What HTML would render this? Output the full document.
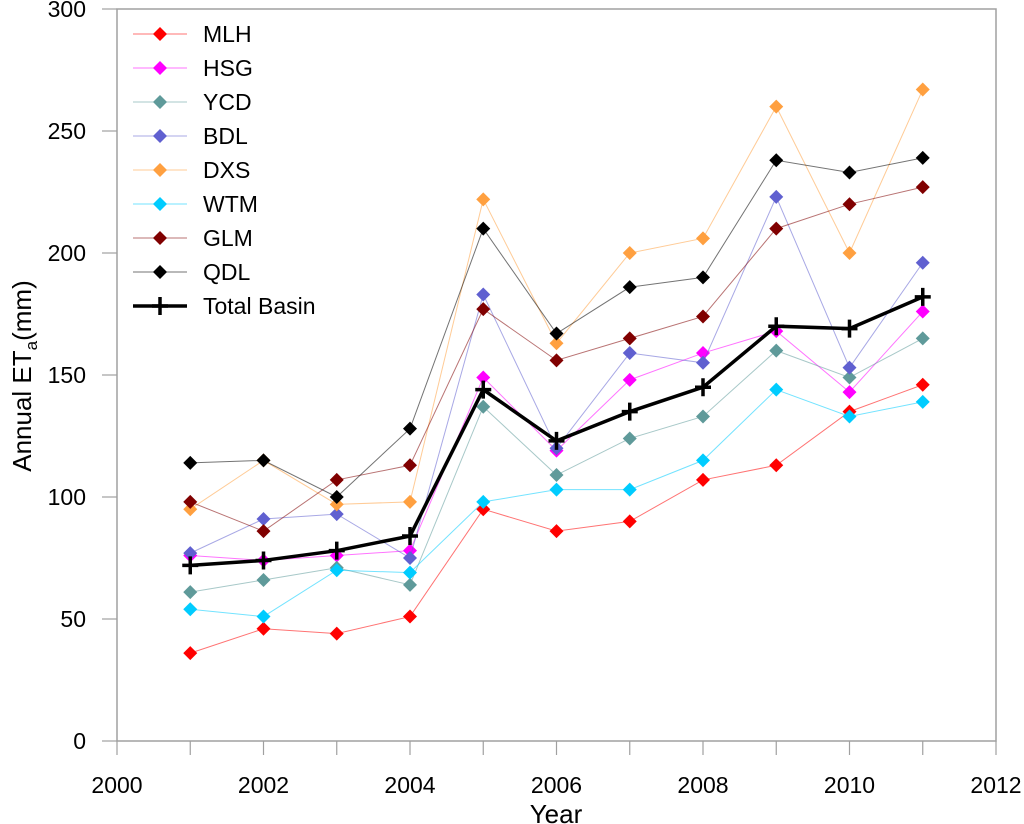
<!DOCTYPE html>
<html><head><meta charset="utf-8">
<style>
body{margin:0;background:#fff;}
svg{display:block;font-family:"Liberation Sans",Arial,sans-serif;}
</style></head><body>
<svg id="chart" width="1024" height="824" xmlns="http://www.w3.org/2000/svg"></svg>
<script>
const years=[2001,2002,2003,2004,2005,2006,2007,2008,2009,2010,2011];
const seriesNames=["MLH","HSG","YCD","BDL","DXS","WTM","GLM","QDL"];
const seriesColors=["#ff0000","#ff00ff","#5f9a9a","#6060d0","#ffa040","#00ccff","#800000","#000000"];
const mlh=[36,46,44,51,95,86,90,107,113,135,146];
const hsg=[76,74,76,78,149,119,148,159,168,143,176];
const ycd=[61,66,71,64,137,109,124,133,160,149,165];
const bdl=[77,91,93,75,183,120,159,155,223,153,196];
const dxs=[95,115,97,98,222,163,200,206,260,200,267];
const wtm=[54,51,70,69,98,103,103,115,144,133,139];
const glm=[98,86,107,113,177,156,165,174,210,220,227];
const qdl=[114,115,100,128,210,167,186,190,238,233,239];
const total=[72,74,78,84,144,123,135,145,170,169,182];
const xTicks=[2000,2002,2004,2006,2008,2010,2012];
const xMinor=[2001,2003,2005,2007,2009,2011];
const yTicks=[0,50,100,150,200,250,300];
const allSeries=[mlh,hsg,ycd,bdl,dxs,wtm,glm,qdl];

const L=117,R=996,T=9,B=741;
const xs=v=>L+(v-2000)/12*(R-L);
const ys=v=>B-v/300*(B-T);
const svg=document.getElementById('chart');
const NS="http://www.w3.org/2000/svg";
function mk(tag,attrs,parent){const e=document.createElementNS(NS,tag);for(const k in attrs)e.setAttribute(k,attrs[k]);(parent||svg).appendChild(e);return e;}

const frame=mk('rect',{x:L,y:T,width:R-L,height:B-T,fill:'none',stroke:'#a0a0a0','stroke-width':1.5});



xTicks.concat(xMinor).forEach(t=>{
  const l=mk('line',{x1:xs(t),x2:xs(t),y1:B,y2:B+14,stroke:'#a0a0a0','stroke-width':1.2});
  
  
});
xTicks.forEach(t=>{
  const tx=mk('text',{x:xs(t),y:793,'font-size':23,'text-anchor':'middle'});
  tx.textContent=t;
  
  
});
yTicks.forEach(t=>{
  const l=mk('line',{x1:L-15,x2:L,y1:ys(t),y2:ys(t),stroke:'#a0a0a0','stroke-width':1.2});
  
  
  const tx=mk('text',{x:86,y:ys(t)+8,'font-size':23,'text-anchor':'end'});
  tx.textContent=t;
  
  
});
const xt=mk('text',{x:556,y:823,'font-size':26,'text-anchor':'middle'});
xt.textContent='Year';


const yt=mk('text',{transform:'translate(31,376) rotate(-90)','font-size':26,'text-anchor':'middle'});
yt.innerHTML='Annual ET<tspan font-size="17" dy="6">a</tspan><tspan dy="-6">(mm)</tspan>';



function diamond(cx,cy,c,p){
  const d=mk('path',{d:`M${cx},${cy-7}L${cx+7},${cy}L${cx},${cy+7}L${cx-7},${cy}Z`,fill:c},p);
  
  
}
allSeries.forEach((s,i)=>{
  const g=mk('g',{});
  
  
  mk('polyline',{points:s.map((v,j)=>xs(years[j])+','+ys(v)).join(' '),fill:'none',stroke:seriesColors[i],'stroke-width':1,'stroke-opacity':0.55},g);
  s.forEach((v,j)=>diamond(xs(years[j]),ys(v),seriesColors[i],g));
});
const tg=mk('g',{});


mk('polyline',{points:total.map((v,j)=>xs(years[j])+','+ys(v)).join(' '),fill:'none',stroke:'#000','stroke-width':3.5},tg);
function cross(cx,cy,p){
  const c=mk('path',{d:`M${cx-8},${cy}H${cx+8}M${cx},${cy-9}V${cy+9}`,stroke:'#000','stroke-width':3.5},p);
  
  
}
total.forEach((v,j)=>cross(xs(years[j]),ys(v),tg));

const lg=mk('g',{});


seriesNames.concat(['Total Basin']).forEach((n,i)=>{
  const y=34+i*34;
  const e=mk('g',{},lg);
  
  
  if(i<8){
    mk('line',{x1:133,x2:187,y1:y,y2:y,stroke:seriesColors[i],'stroke-width':1,'stroke-opacity':0.55},e);
    diamond(160,y,seriesColors[i],e);
  }else{
    mk('line',{x1:133,x2:187,y1:y,y2:y,stroke:'#000','stroke-width':3.5},e);
    cross(160,y,e);
  }
  const t=mk('text',{x:203,y:y+8,'font-size':23},e);
  t.textContent=n;
});
</script>
</body></html>
